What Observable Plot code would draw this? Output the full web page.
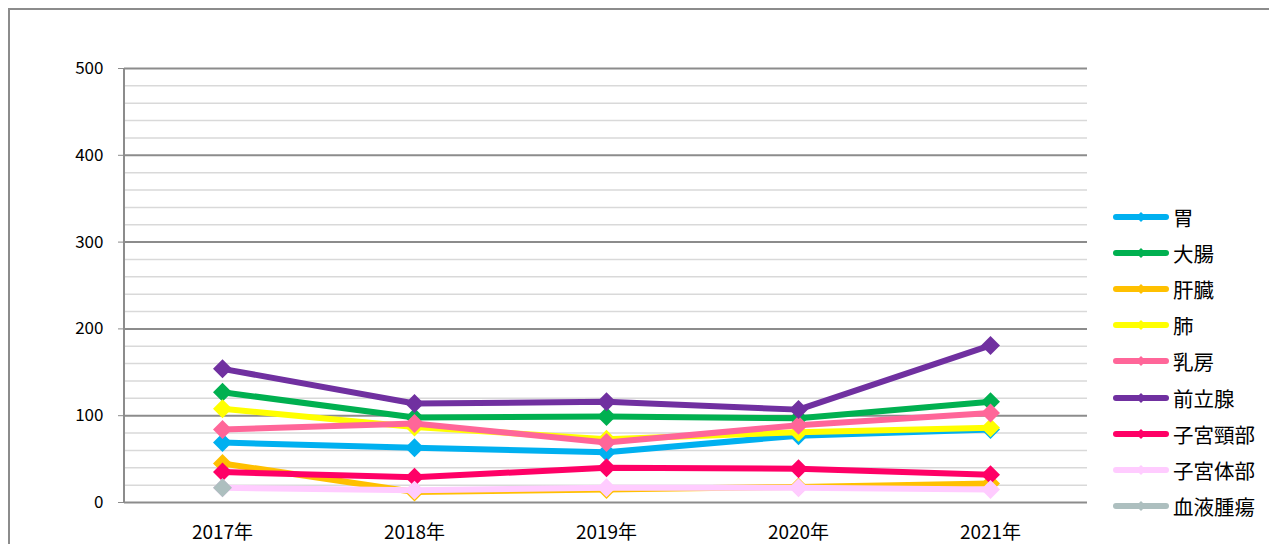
<!DOCTYPE html>
<html><head><meta charset="utf-8">
<script src="https://cdn.jsdelivr.net/npm/d3@7"></script>
<script src="https://cdn.jsdelivr.net/npm/@observablehq/plot@0.6"></script>
<style>
body{margin:0;background:#fff;overflow:hidden;}
#wrap{position:relative;width:1269px;height:544px;overflow:hidden;font-family:"Noto Sans CJK JP","Noto Sans",sans-serif;background:#fff;}
#wrap svg.chart{position:absolute;left:0;top:0;}
#frame{position:absolute;left:8px;top:8px;width:1400px;height:700px;border:2px solid #8c8c8c;box-sizing:border-box;pointer-events:none;}
.item{position:absolute;left:1113px;height:24px;display:flex;align-items:center;white-space:nowrap;font-size:20.5px;color:#000;}
.item svg{display:block;margin-right:4px;}
</style>
</head><body>
<div id="wrap"></div>
<script>
const years = ["2017年", "2018年", "2019年", "2020年", "2021年"];
const seriesNames = ["胃", "大腸", "肝臓", "肺", "乳房", "前立腺", "子宮頸部", "子宮体部", "血液腫瘍"];
const colors = ["#00B0F0", "#00B050", "#FFC000", "#FFFF00", "#FF6699", "#7030A0", "#FF0066", "#FFCCFF", "#ADBFBF"];
const stomach   = [69, 63, 58, 77, 84];
const colon     = [127, 98, 99, 97, 116];
const liver     = [45, 12, 15, 18, 22];
const lung      = [108, 87, 73, 81, 86];
const breast    = [84, 91, 69, 89, 103];
const prostate  = [154, 114, 116, 107, 181];
const cervix    = [35, 29, 40, 39, 32];
const uterus    = [17, 14, 17, 17, 15];
const blood     = [17, null, null, null, null];
const yTicks = [0, 100, 200, 300, 400, 500];
const yMinor = [20, 40, 60, 80, 120, 140, 160, 180, 220, 240, 260, 280, 320, 340, 360, 380, 420, 440, 460, 480];

const allValues = [stomach, colon, liver, lung, breast, prostate, cervix, uterus, blood];
const rows = [];
seriesNames.forEach((name, si) => allValues[si].forEach((v, i) => rows.push({series: name, year: years[i], value: v})));

const diamond = {
  draw(ctx, size) {
    const h = Math.sqrt(size / Math.PI);
    ctx.moveTo(0, -h); ctx.lineTo(h, 0); ctx.lineTo(0, h); ctx.lineTo(-h, 0); ctx.closePath();
  }
};

const seriesMarks = [];
seriesNames.forEach((name, si) => {
  const d = rows.filter(r => r.series === name);
  seriesMarks.push(Plot.lineY(d, {x: "year", y: "value", stroke: colors[si], strokeWidth: 6, strokeLinejoin: "round"}));
  seriesMarks.push(Plot.dot(d.filter(r => r.value != null), {x: "year", y: "value", fill: colors[si], stroke: "none", symbol: diamond, r: 9.5}));
});

const svgns = "http://www.w3.org/2000/svg";
const chart = Plot.plot({
  width: 1269,
  height: 544,
  marginLeft: 124,
  marginRight: 182,
  marginTop: 68,
  marginBottom: 42,
  style: {fontFamily: '"Noto Sans CJK JP","Noto Sans",sans-serif', fontSize: "17px", background: "transparent", color: "#000"},
  x: {type: "point", domain: years, padding: 0.5},
  y: {domain: [0, 500]},
  marks: [
    Plot.ruleY(yMinor, {stroke: "#d9d9d9", strokeWidth: 1.5}),
    Plot.ruleY(yTicks, {stroke: "#8c8c8c", strokeWidth: 2}),
    (index, scales, values, dims) => {
      const l = document.createElementNS(svgns, "line");
      l.setAttribute("x1", dims.marginLeft); l.setAttribute("x2", dims.marginLeft);
      l.setAttribute("y1", scales.y(500)); l.setAttribute("y2", scales.y(0));
      l.setAttribute("stroke", "#8c8c8c"); l.setAttribute("stroke-width", 2);
      return l;
    },
    Plot.axisY({ticks: yTicks, tickSize: 6, tickPadding: 15, stroke: "#8c8c8c", fill: "#000", fontSize: 17, label: null}),
    Plot.axisX({tickSize: 0, tickPadding: 23, fontSize: 19, fill: "#000", label: null}),
    ...seriesMarks
  ]
});
chart.classList.add("chart");
const wrap = document.getElementById("wrap");
wrap.appendChild(chart);

// legend
seriesNames.forEach((name, i) => {
  const item = document.createElement("div");
  item.className = "item";
  item.style.top = (217 + i * 36.1 - 12) + "px";
  const s = d3.create("svg").attr("width", 56).attr("height", 12);
  s.append("line").attr("x1", 3).attr("x2", 53).attr("y1", 6).attr("y2", 6)
    .attr("stroke", colors[i]).attr("stroke-width", 6).attr("stroke-linecap", "round");
  s.append("path").attr("d", "M28,1L33,6L28,11L23,6Z").attr("fill", colors[i]);
  item.appendChild(s.node());
  const t = document.createElement("span");
  t.textContent = name;
  item.appendChild(t);
  wrap.appendChild(item);
});
const frame = document.createElement("div");
frame.id = "frame";
wrap.appendChild(frame);
</script>
</body></html>
